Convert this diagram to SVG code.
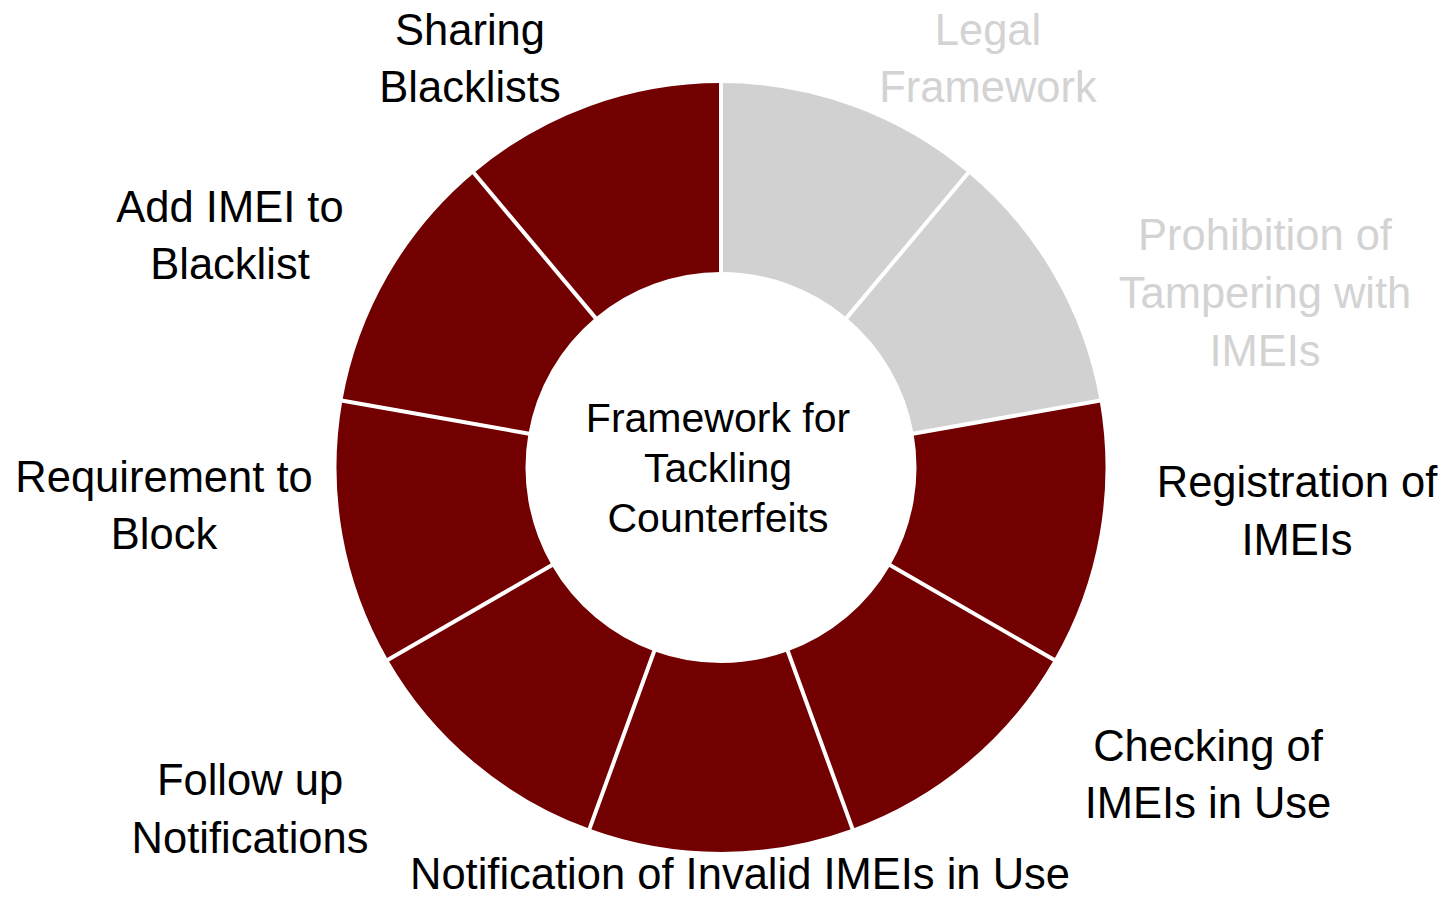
<svg xmlns="http://www.w3.org/2000/svg" xmlns:xlink="http://www.w3.org/1999/xlink" width="1449" height="898" viewBox="0 0 1449 898">
<style>
.red{fill:#720000}
.grey{fill:#D1D1D1}
.lbl{font-family:"Liberation Sans",Arial,sans-serif;font-size:43.5px;fill:#000;text-anchor:middle}
.lbl.g{fill:#D3D3D3}
.ctr{font-family:"Liberation Sans",Arial,sans-serif;font-size:41px;fill:#000;text-anchor:middle}
.sep{stroke:#fff;stroke-width:4}
</style>
<defs>
<path id="wedge" d="M721,83 A384.5,384.5 0 0 1 968.15,172.96 L846.67,317.74 A195.5,195.5 0 0 0 721,272 Z"/>
</defs>
<rect width="1449" height="898" fill="#fff"/>
<g id="legal-framework">
<use xlink:href="#wedge" class="grey"/>
<text class="lbl g" x="988" y="45">Legal</text>
<text class="lbl g" x="988" y="102">Framework</text>
</g>
<g id="prohibition">
<use xlink:href="#wedge" class="grey" transform="rotate(40 721 467.5)"/>
<text class="lbl g" x="1265" y="250">Prohibition of</text>
<text class="lbl g" x="1265" y="308">Tampering with</text>
<text class="lbl g" x="1265" y="366">IMEIs</text>
</g>
<g id="registration">
<use xlink:href="#wedge" class="red" transform="rotate(80 721 467.5)"/>
<text class="lbl" x="1297" y="497">Registration of</text>
<text class="lbl" x="1297" y="555">IMEIs</text>
</g>
<g id="checking">
<use xlink:href="#wedge" class="red" transform="rotate(120 721 467.5)"/>
<text class="lbl" x="1208" y="761">Checking of</text>
<text class="lbl" x="1208" y="818">IMEIs in Use</text>
</g>
<g id="notification-invalid">
<use xlink:href="#wedge" class="red" transform="rotate(160 721 467.5)"/>
<text class="lbl" x="740" y="889">Notification of Invalid IMEIs in Use</text>
</g>
<g id="follow-up">
<use xlink:href="#wedge" class="red" transform="rotate(200 721 467.5)"/>
<text class="lbl" x="250" y="795">Follow up</text>
<text class="lbl" x="250" y="853">Notifications</text>
</g>
<g id="requirement-block">
<use xlink:href="#wedge" class="red" transform="rotate(240 721 467.5)"/>
<text class="lbl" x="164" y="492">Requirement to</text>
<text class="lbl" x="164" y="549">Block</text>
</g>
<g id="add-imei">
<use xlink:href="#wedge" class="red" transform="rotate(280 721 467.5)"/>
<text class="lbl" x="230" y="222">Add IMEI to</text>
<text class="lbl" x="230" y="279">Blacklist</text>
</g>
<g id="sharing-blacklists">
<use xlink:href="#wedge" class="red" transform="rotate(320 721 467.5)"/>
<text class="lbl" x="470" y="45">Sharing</text>
<text class="lbl" x="470" y="102">Blacklists</text>
</g>
<g id="separators">
<line class="sep" x1="721" y1="280" x2="721" y2="75"/>
<line class="sep" x1="721" y1="280" x2="721" y2="75" transform="rotate(40 721 467.5)"/>
<line class="sep" x1="721" y1="280" x2="721" y2="75" transform="rotate(80 721 467.5)"/>
<line class="sep" x1="721" y1="280" x2="721" y2="75" transform="rotate(120 721 467.5)"/>
<line class="sep" x1="721" y1="280" x2="721" y2="75" transform="rotate(160 721 467.5)"/>
<line class="sep" x1="721" y1="280" x2="721" y2="75" transform="rotate(200 721 467.5)"/>
<line class="sep" x1="721" y1="280" x2="721" y2="75" transform="rotate(240 721 467.5)"/>
<line class="sep" x1="721" y1="280" x2="721" y2="75" transform="rotate(280 721 467.5)"/>
<line class="sep" x1="721" y1="280" x2="721" y2="75" transform="rotate(320 721 467.5)"/>
</g>
<g id="center">
<text class="ctr" x="718" y="432">Framework for</text>
<text class="ctr" x="718" y="482">Tackling</text>
<text class="ctr" x="718" y="532">Counterfeits</text>
</g>
</svg>
